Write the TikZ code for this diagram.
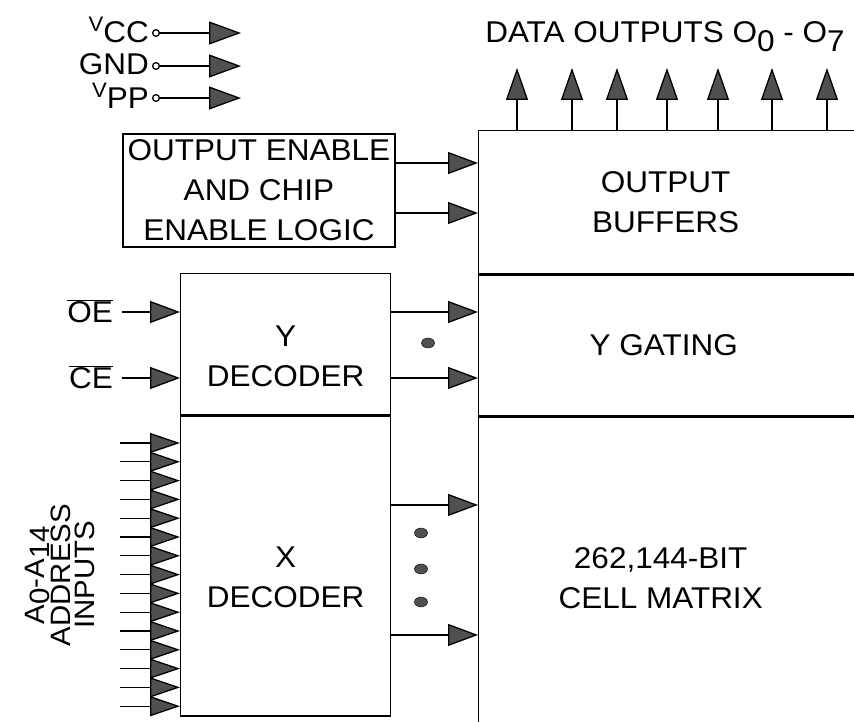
\documentclass[tikz,border=0pt]{standalone}
\usepackage{fontspec}
\setmainfont{Liberation Sans}[FakeStretch=1.05]
\usetikzlibrary{arrows.meta,positioning,calc,shapes.geometric}
\definecolor{tipgray}{RGB}{80,80,80}
\newcommand{\lwr}[1]{\raisebox{-9pt}{#1}}
\newcommand{\upv}{\raisebox{11pt}{\fontsize{21}{21}\selectfont V}}
\tikzset{
  blk/.style={draw, line width=1.3pt, rectangle, inner sep=0pt},
  txt/.style={font=\fontsize{30}{40}\selectfont, align=center, inner sep=2pt},
  arr/.style={line width=1.3pt, -{Triangle[length=30pt, width=22pt, fill=tipgray]}},
  parr/.style={line width=1.3pt, {Circle[open, length=8pt, width=8pt]}-{Triangle[length=32pt, width=23pt, fill=tipgray]}},
  vdot/.style={ellipse, draw, fill=tipgray, minimum width=13pt, minimum height=10pt, inner sep=0pt},
}

\begin{document}
\begin{tikzpicture}[x=1pt, y=1pt]
  \useasboundingbox (0,0) rectangle (854,721);
  \clip (0,0) rectangle (854,721);
  % supply pins
  \node[txt, anchor=base east, inner sep=1pt] (vcc) at (150,678) {\upv CC};
  \node[txt, anchor=base east, inner sep=1pt] (gnd) at (150,646) {GND};
  \node[txt, anchor=base east, inner sep=1pt] (vpp) at (150,612) {\upv PP};
  \foreach \n/\y in {vcc/688, gnd/655, vpp/623}{
    \coordinate (\n end) at (241,\y);
    \draw[parr] ([xshift=2pt]\n end -| \n.east) -- (\n end);
  }
  % enable logic
  \node[blk, txt, minimum width=272pt, minimum height=113pt] (logic) at (259,530.5)
    {OUTPUT ENABLE\\AND CHIP\\ENABLE LOGIC};
  % right hand block: buffers, gating, matrix
  \node[blk, minimum width=400pt, minimum height=143pt, anchor=north west] (obuf) at (478,591) {};
  \node[blk, minimum width=400pt, minimum height=141pt, anchor=north west] (ygate) at (obuf.south west) {};
  \node[blk, minimum width=400pt, minimum height=330pt, anchor=north west] (matrix) at (ygate.south west) {};
  \node[txt] (obuftxt) at ([xshift=-13pt]obuf.center) {OUTPUT\\BUFFERS};
  \node[txt] (ygatetxt) at ([xshift=-15pt]ygate.center) {Y GATING};
  \node[txt] (matrixtxt) at ([xshift=-18pt, yshift=4pt]matrix.center) {262,144-BIT\\CELL MATRIX};
  % decoders
  \node[blk, minimum width=210pt, minimum height=141pt, anchor=north west] (ydec) at (180,448) {};
  \node[blk, minimum width=210pt, minimum height=300pt, anchor=north west] (xdec) at (ydec.south west) {};
  \node[txt] (ydectxt) at ([yshift=-12pt]ydec.center) {Y\\DECODER};
  \node[txt] (xdectxt) at ([yshift=-11pt]xdec.center) {X\\DECODER};
  % control inputs
  \node[txt, anchor=base east] (oe) at (115,398) {$\overline{\mbox{OE}}$};
  \node[txt, anchor=base east] (ce) at (115,332) {$\overline{\mbox{CE}}$};
  \coordinate (oein) at ([shift={(7pt,11pt)}]oe.base east);
  \coordinate (cein) at ([shift={(7pt,11pt)}]ce.base east);
  \draw[arr] (oein) -- (oein -| ydec.west);
  \draw[arr] (cein) -- (cein -| ydec.west);
  \draw[arr] (oein -| ydec.east) -- (oein -| ygate.west);
  \draw[arr] (cein -| ydec.east) -- (cein -| ygate.west);
  \node[vdot] (ydot) at (428,378) {};
  % logic to buffers
  \coordinate (lo1) at ([yshift=27.5pt]logic.east);
  \coordinate (lo2) at ([yshift=-22.5pt]logic.east);
  \draw[arr] (lo1) -- (lo1 -| obuf.west);
  \draw[arr] (lo2) -- (lo2 -| obuf.west);
  % x decoder to matrix
  \coordinate (xo1) at ([yshift=61pt]xdec.east);
  \coordinate (xo2) at ([yshift=-69pt]xdec.east);
  \draw[arr] (xo1) -- (xo1 -| matrix.west);
  \draw[arr] (xo2) -- (xo2 -| matrix.west);
  \foreach \y/\k in {188/1, 152/2, 119/3}
    \node[vdot] (xdot\k) at (421,\y) {};
  % address inputs A0-A14
  \foreach \i in {0,...,14}{
    \pgfmathsetmacro{\ay}{278-18.8*\i}
    \coordinate (a\i) at (120,\ay);
    \draw[arr, -{Triangle[length=30pt, width=20pt, fill=tipgray]}] (a\i) -- (a\i -| xdec.west);
  }
  \node[txt, rotate=90, font=\fontsize{28}{24}\selectfont] (addr) at (60,146)
    {A\raisebox{-5pt}{0}-A\raisebox{-5pt}{14}\\ADDRESS\\INPUTS};
  % data outputs
  \foreach \x in {517,572,617,667,718,772,827}{
    \coordinate (d\x) at (\x,653);
    \draw[arr, -{Triangle[length=32pt, width=22pt, fill=tipgray]}] (d\x |- obuf.north) -- (d\x);
  }
  \node[txt, anchor=base] (dout) at (665,678) {DATA OUTPUTS O\lwr{0} - O\lwr{7}};
\end{tikzpicture}
\end{document}
